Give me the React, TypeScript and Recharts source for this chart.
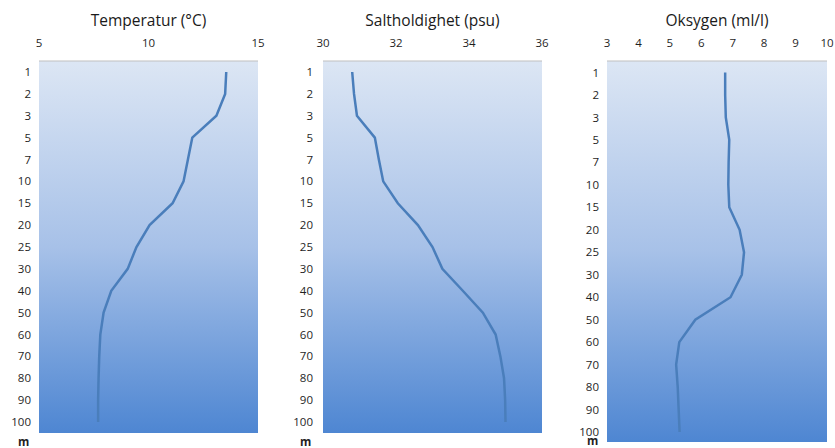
import React from 'react';
import { LineChart, Line, XAxis, YAxis, CartesianGrid } from 'recharts';

const depths = ['1', '2', '3', '5', '7', '10', '15', '20', '25', '30', '40', '50', '60', '70', '80', '90', '100'];
const temperatur = [13.55, 13.5, 13.1, 12.0, 11.8, 11.6, 11.1, 10.05, 9.45, 9.05, 8.3, 7.95, 7.8, 7.75, 7.72, 7.7, 7.7];
const saltholdighet = [30.8, 30.85, 30.93, 31.42, 31.53, 31.65, 32.05, 32.6, 33.0, 33.27, 33.83, 34.38, 34.73, 34.86, 34.96, 34.99, 35.0];
const oksygen = [6.76, 6.76, 6.78, 6.89, 6.87, 6.86, 6.89, 7.22, 7.36, 7.29, 6.93, 5.81, 5.3, 5.2, 5.25, 5.28, 5.31];

const tempTicks = [5, 10, 15];
const saltTicks = [30, 32, 34, 36];
const oksTicks = [3, 4, 5, 6, 7, 8, 9, 10];

const data = depths.map((d, i) => ({
  depth: d,
  temp: temperatur[i],
  salt: saltholdighet[i],
  oks: oksygen[i],
}));

const FONT = '"Open Sans", sans-serif';
const tickStyle = { fontSize: 11.5, fill: '#1f1f1f', fontFamily: FONT };

type PanelProps = {
  id: string;
  title: string;
  dataKey: string;
  ticks: number[];
  left: number;
  width: number;
  yWidth: number;
  right: number;
  bottom: number;
  yMargin: number;
  padTop: number;
  padBottom: number;
  unitLeft: number;
  unitTop: number;
};

const Panel = (p: PanelProps) => {
  return (
    <div style={{ position: 'absolute', left: p.left, top: 0, width: p.width, height: 448 }}>
      <div
        style={{
          position: 'absolute',
          left: p.yWidth,
          width: p.width - p.right - p.yWidth,
          top: 9,
          textAlign: 'center',
          fontFamily: FONT,
          fontSize: 15.5,
          color: '#1a1a1a',
        }}
      >
        {p.title}
      </div>
      <LineChart
        width={p.width}
        height={448}
        data={data}
        layout="vertical"
        margin={{ top: 21, right: p.right, bottom: p.bottom, left: 0 }}
      >
        <defs>
          <linearGradient id={p.id} x1="0" y1="0" x2="0" y2="1">
            <stop offset="0%" stopColor="#dce6f4" />
            <stop offset="50%" stopColor="#a7c1e8" />
            <stop offset="100%" stopColor="#4e86d2" />
          </linearGradient>
        </defs>
        <CartesianGrid fill={`url(#${p.id})`} horizontal={false} vertical={false} />
        <XAxis
          type="number"
          orientation="top"
          dataKey={p.dataKey}
          domain={[p.ticks[0], p.ticks[p.ticks.length - 1]]}
          ticks={p.ticks}
          allowDataOverflow
          height={40}
          tickLine={false}
          tickSize={0}
          tickMargin={14}
          axisLine={{ stroke: '#bfbfbf' }}
          tick={tickStyle}
          interval={0}
        />
        <YAxis
          type="category"
          dataKey="depth"
          width={p.yWidth}
          padding={{ top: p.padTop, bottom: p.padBottom }}
          tickLine={false}
          axisLine={false}
          tickSize={0}
          tickMargin={p.yMargin}
          tick={tickStyle}
          interval={0}
        />
        <Line
          dataKey={p.dataKey}
          type="linear"
          stroke="#4a7ebb"
          strokeWidth={2.5}
          dot={false}
          isAnimationActive={false}
        />
      </LineChart>
      <div
        style={{
          position: 'absolute',
          left: p.unitLeft,
          top: p.unitTop,
          fontFamily: FONT,
          fontSize: 11.5,
          fontWeight: 'bold',
          color: '#1f1f1f',
          lineHeight: '11px',
        }}
      >
        m
      </div>
    </div>
  );
};

export default function App() {
  return (
    <div style={{ position: 'absolute', left: 0, top: 0, width: 835, height: 448, background: '#fff', overflow: 'hidden' }}>
      <Panel id="g1" title="Temperatur (°C)" dataKey="temp" ticks={tempTicks}
        left={0} width={280} yWidth={39} right={22} bottom={15} yMargin={8}
        padTop={11} padBottom={11} unitLeft={18} unitTop={436} />
      <Panel id="g2" title="Saltholdighet (psu)" dataKey="salt" ticks={saltTicks}
        left={280} width={280} yWidth={43} right={18} bottom={15} yMargin={10}
        padTop={11} padBottom={11} unitLeft={20} unitTop={436} />
      <Panel id="g3" title="Oksygen (ml/l)" dataKey="oks" ticks={oksTicks}
        left={560} width={275} yWidth={47} right={8} bottom={6} yMargin={8}
        padTop={11.5} padBottom={10} unitLeft={27} unitTop={435} />
    </div>
  );
}
